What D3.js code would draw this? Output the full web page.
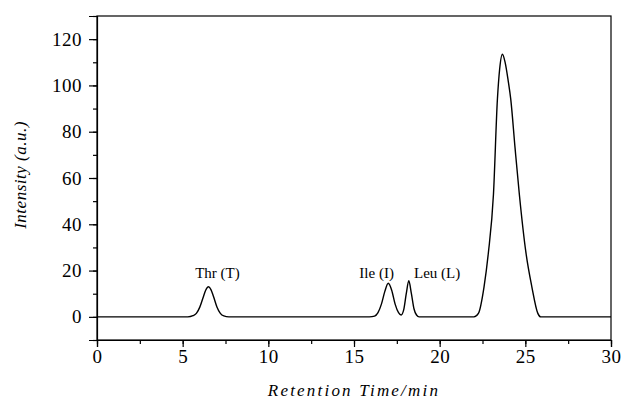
<!DOCTYPE html>
<html>
<head>
<meta charset="utf-8">
<script src="https://cdn.jsdelivr.net/npm/d3@7"></script>
<style>
  body { margin: 0; background: #fff; }
  svg { display: block; }
  .axis path, .axis line { stroke: #000; stroke-width: 1.2; }
  .axis text { font-family: "Liberation Serif", "Times New Roman", serif; font-size: 19px; fill: #000; letter-spacing: 0.5px; }
</style>
</head>
<body>
<div id="chart"></div>
<script>
// chromatogram trace
var time = [0, 5.3, 5.6, 5.8, 6.0, 6.2, 6.35, 6.5, 6.65, 6.8, 7.0, 7.2, 7.4, 7.7,
  15.9, 16.2, 16.4, 16.6, 16.8, 17.0, 17.2, 17.4, 17.6, 17.75, 17.9, 18.05, 18.2, 18.35, 18.5, 18.65, 18.8,
  22.0, 22.26, 22.59, 22.84, 23.14, 23.37, 23.5, 23.66, 23.82, 24.0, 24.15, 24.4, 24.65, 25.04, 25.38, 25.73, 25.9, 30];
var intensity = [0, 0, 0.5, 1.5, 4.2, 8.5, 11.6, 13, 11.8, 8.8, 4.3, 1.5, 0.4, 0,
  0, 0.3, 1.8, 5.5, 11, 14.5, 11.5, 5.5, 1.8, 0.8, 3, 10, 15.6, 10, 3.5, 0.8, 0,
  0, 1.5, 13, 27.5, 53, 94, 107, 113.5, 110, 102, 94, 73, 53, 27.5, 13, 1.5, 0, 0];

// label names and where their centres sit on the time axis
var peakNames = ["Thr (T)", "Ile (I)", "Leu (L)"];
var peakTimes = [7.03, 16.32, 19.85];

var xTicks = [0, 5, 10, 15, 20, 25, 30];
var yTicks = [0, 20, 40, 60, 80, 100, 120];

const width = 622, height = 399;
var margin = {top: 16, right: 11, bottom: 59, left: 97};

var x = d3.scaleLinear().domain([0, 30]).range([margin.left, width - margin.right]);
var y = d3.scaleLinear().domain([-10, 130]).range([height - margin.bottom, margin.top]);

var svg = d3.select("#chart").append("svg")
    .attr("width", width)
    .attr("height", height);

// frame
svg.append("rect")
    .attr("x", x(0))
    .attr("y", y(130))
    .attr("width", x(30) - x(0))
    .attr("height", y(-10) - y(130))
    .attr("fill", "none")
    .attr("stroke", "#000")
    .attr("stroke-width", 1.2);

// minor ticks first, then major axes with labels
svg.append("g")
    .attr("class", "axis")
    .attr("transform", "translate(0," + y(-10) + ")")
    .call(d3.axisBottom(x).tickValues(d3.range(0, 30.1, 2.5)).tickSize(4).tickFormat(""))
    .select(".domain").remove();

svg.append("g")
    .attr("class", "axis")
    .attr("transform", "translate(0," + y(-10) + ")")
    .call(d3.axisBottom(x).tickValues(xTicks).tickSize(7).tickPadding(3).tickFormat(d3.format("d")));

svg.append("g")
    .attr("class", "axis")
    .attr("transform", "translate(" + x(0) + ",0)")
    .call(d3.axisLeft(y).tickValues(d3.range(-10, 130.1, 10)).tickSize(4).tickFormat(""))
    .select(".domain").remove();

svg.append("g")
    .attr("class", "axis")
    .attr("transform", "translate(" + x(0) + ",0)")
    .call(d3.axisLeft(y).tickValues(yTicks).tickSize(8).tickPadding(7).tickFormat(d3.format("d")));

// trace
var pts = time.map(function(t, i) { return [t, intensity[i]]; });
var line = d3.line()
    .x(function(d) { return x(d[0]); })
    .y(function(d) { return y(d[1]); })
    .curve(d3.curveMonotoneX);

svg.append("path")
    .attr("d", line(pts))
    .attr("fill", "none")
    .attr("stroke", "#000")
    .attr("stroke-width", 1.4);

// peak labels
svg.selectAll(".peak")
    .data(peakNames)
    .enter()
    .append("text")
    .attr("class", "peak")
    .attr("x", function(d, i) { return x(peakTimes[i]); })
    .attr("y", y(17))
    .attr("text-anchor", "middle")
    .style("font-family", "'Liberation Serif', 'Times New Roman', serif")
    .style("font-size", "15px")
    .text(function(d) { return d; });

// axis titles
svg.append("text")
    .attr("x", (x(0) + x(30)) / 2)
    .attr("y", 396)
    .attr("text-anchor", "middle")
    .style("font-family", "'Liberation Serif', 'Times New Roman', serif")
    .style("font-style", "italic")
    .style("font-size", "17px")
    .style("letter-spacing", "2.2px")
    .text("Retention Time/min");

svg.append("text")
    .attr("transform", "translate(26,175) rotate(-90)")
    .attr("text-anchor", "middle")
    .style("font-family", "'Liberation Serif', 'Times New Roman', serif")
    .style("font-style", "italic")
    .style("font-size", "17px")
    .style("letter-spacing", "0.5px")
    .text("Intensity (a.u.)");
</script>
</body>
</html>
